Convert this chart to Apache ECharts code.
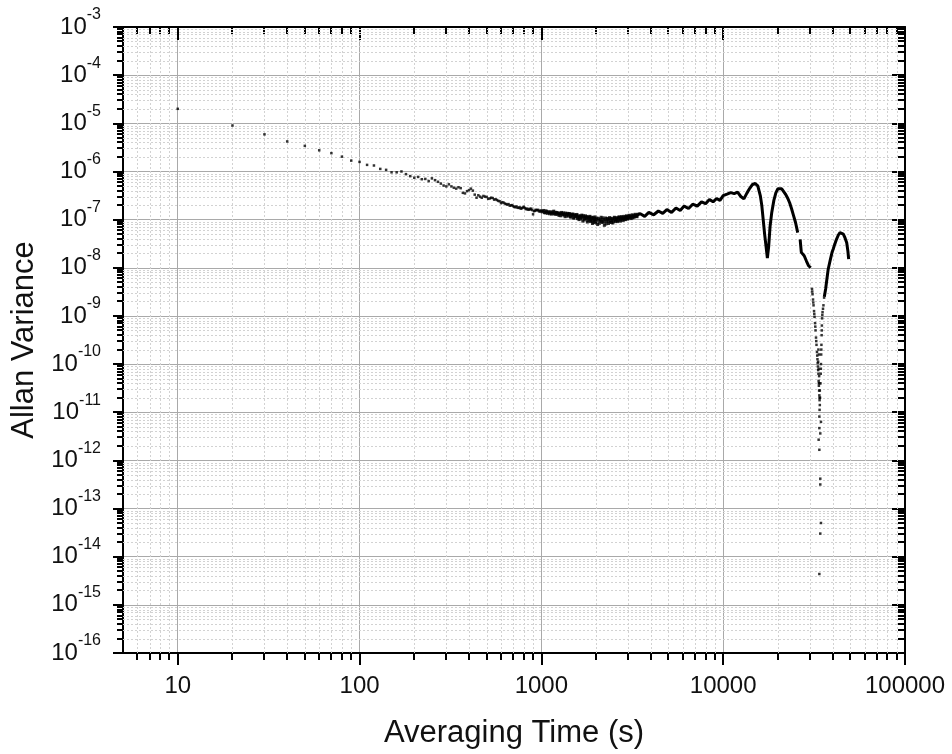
<!DOCTYPE html>
<html>
<head>
<meta charset="utf-8">
<title>Allan Variance</title>
<script src="https://cdn.jsdelivr.net/npm/echarts@6/dist/echarts.min.js"></script>
<style>
  html, body { margin: 0; padding: 0; background: #ffffff; }
  #chart { width: 952px; height: 754px; }
</style>
</head>
<body>
<div id="chart"></div>
<script>
// Allan variance against averaging time, log-log.

// Short averaging times: one point every 10 s
const shortTau = [10, 20, 30, 40, 50, 60, 70, 80, 90, 100,
  110, 120, 130, 140, 150, 160, 170, 180, 190, 200,
  210, 220, 230, 240, 250, 260, 270, 280, 290, 300,
  310, 320, 330, 340, 350, 360, 370, 380, 390, 400,
  410, 420, 430, 440, 450, 460, 470, 480, 490, 500,
  510, 520, 530, 540, 550, 560, 570, 580, 590, 600,
  610, 620, 630, 640, 650, 660, 670, 680, 690, 700,
  710, 720, 730, 740, 750, 760, 770, 780, 790, 800,
  810, 820, 830, 840, 850, 860, 870, 880, 890, 900,
  910, 920, 930, 940, 950, 960, 970, 980, 990, 1000];
const shortVar = [2.0e-5, 9.0e-6, 5.9e-6, 4.2e-6, 3.4e-6, 2.75e-6, 2.4e-6, 2.03e-6, 1.68e-6, 1.58e-6,
  1.37e-6, 1.33e-6, 1.13e-6, 1.08e-6, 9.6e-7, 9.6e-7, 1.0e-6, 8.8e-7, 8.0e-7, 7.4e-7,
  7.7e-7, 6.9e-7, 7.0e-7, 6.3e-7, 7.2e-7, 6.6e-7, 6.1e-7, 5.6e-7, 5.1e-7, 4.9e-7,
  5.4e-7, 4.9e-7, 4.6e-7, 4.4e-7, 4.7e-7, 4.5e-7, 3.6e-7, 3.5e-7, 3.9e-7, 4.1e-7,
  4.4e-7, 4.0e-7, 3.3e-7, 2.85e-7, 3.2e-7, 3.0e-7, 2.85e-7, 3.1e-7, 3.0e-7, 2.95e-7,
  2.7e-7, 2.75e-7, 2.85e-7, 2.8e-7, 2.6e-7, 2.65e-7, 2.55e-7, 2.45e-7, 2.4e-7, 2.2e-7,
  2.3e-7, 2.25e-7, 2.15e-7, 2.1e-7, 2.05e-7, 2.1e-7, 1.95e-7, 1.97e-7, 2.0e-7, 1.9e-7,
  1.85e-7, 1.8e-7, 1.88e-7, 1.77e-7, 1.75e-7, 1.8e-7, 1.69e-7, 1.72e-7, 1.78e-7, 1.85e-7,
  1.75e-7, 1.65e-7, 1.7e-7, 1.63e-7, 1.6e-7, 1.68e-7, 1.62e-7, 1.69e-7, 1.58e-7, 1.29e-7,
  1.5e-7, 1.52e-7, 1.6e-7, 1.56e-7, 1.58e-7, 1.59e-7, 1.5e-7, 1.47e-7, 1.55e-7, 1.51e-7];

// Scattered cloud around the minimum
const cloudTau = [1010, 1030, 1050, 1070, 1090, 1110, 1130, 1150, 1170, 1190,
  1210, 1230, 1250, 1270, 1290, 1310, 1330, 1350, 1370, 1390,
  1410, 1430, 1450, 1470, 1490, 1510, 1530, 1550, 1570, 1590,
  1610, 1630, 1650, 1670, 1690, 1710, 1730, 1750, 1770, 1790,
  1810, 1830, 1850, 1870, 1890, 1910, 1930, 1950, 1970, 1990,
  2010, 2040, 2070, 2100, 2130, 2160, 2190, 2220, 2250, 2280,
  2310, 2340, 2370, 2400, 2430, 2460, 2490, 2520, 2550, 2580,
  2610, 2640, 2670, 2700, 2730, 2760, 2790, 2820, 2850, 2880,
  2910, 2940, 2970, 3000, 3040, 3080, 3120, 3160, 3200, 3240,
  3280, 3320, 3360, 3400];
const cloudVar = [1.45e-7, 1.55e-7, 1.38e-7, 1.48e-7, 1.41e-7, 1.32e-7, 1.45e-7, 1.36e-7, 1.50e-7, 1.29e-7,
  1.40e-7, 1.35e-7, 1.22e-7, 1.33e-7, 1.41e-7, 1.26e-7, 1.38e-7, 1.15e-7, 1.29e-7, 1.35e-7,
  1.20e-7, 1.32e-7, 1.12e-7, 1.26e-7, 1.31e-7, 1.07e-7, 1.23e-7, 1.17e-7, 1.28e-7, 1.10e-7,
  1.00e-7, 1.20e-7, 1.12e-7, 1.24e-7, 9.3e-8, 1.15e-7, 1.05e-7, 1.20e-7, 1.09e-7, 8.9e-8,
  1.12e-7, 1.02e-7, 1.17e-7, 9.5e-8, 1.07e-7, 8.3e-8, 1.10e-7, 9.8e-8, 1.14e-7, 9.1e-8,
  1.03e-7, 7.9e-8, 1.05e-7, 9.4e-8, 1.12e-7, 8.7e-8, 1.00e-7, 7.6e-8, 1.08e-7, 9.1e-8,
  1.02e-7, 8.3e-8, 1.10e-7, 9.6e-8, 8.7e-8, 1.05e-7, 9.3e-8, 1.12e-7, 9.1e-8, 1.00e-7,
  1.10e-7, 9.5e-8, 1.14e-7, 1.04e-7, 9.3e-8, 1.15e-7, 1.02e-7, 9.6e-8, 1.17e-7, 1.07e-7,
  1.00e-7, 1.20e-7, 1.09e-7, 1.05e-7, 1.23e-7, 1.10e-7, 1.05e-7, 1.26e-7, 1.15e-7, 1.12e-7,
  1.29e-7, 1.17e-7, 1.15e-7, 1.29e-7];

// Intermediate points of the same cloud
const cloudTauB = [1020, 1040, 1060, 1080, 1100, 1120, 1140, 1160, 1180, 1200,
  1220, 1240, 1260, 1280, 1300, 1320, 1340, 1360, 1380, 1400,
  1420, 1440, 1460, 1480, 1500, 1520, 1540, 1560, 1580, 1600,
  1620, 1640, 1660, 1680, 1700, 1720, 1740, 1760, 1780, 1800,
  1820, 1840, 1860, 1880, 1900, 1920, 1940, 1960, 1980, 2000,
  2025, 2055, 2085, 2115, 2145, 2175, 2205, 2235, 2265, 2295,
  2325, 2355, 2385, 2415, 2445, 2475, 2505, 2535, 2565, 2595,
  2625, 2655, 2685, 2715, 2745, 2775, 2805, 2835, 2865, 2895,
  2925, 2955, 2985, 3020, 3060, 3100, 3140, 3180, 3220, 3260,
  3300, 3340, 3380];
const cloudVarB = [1.50e-7, 1.40e-7, 1.52e-7, 1.35e-7, 1.46e-7, 1.39e-7, 1.30e-7, 1.44e-7, 1.33e-7, 1.42e-7,
  1.28e-7, 1.39e-7, 1.31e-7, 1.20e-7, 1.36e-7, 1.30e-7, 1.24e-7, 1.36e-7, 1.18e-7, 1.28e-7,
  1.34e-7, 1.16e-7, 1.29e-7, 1.21e-7, 1.10e-7, 1.27e-7, 1.14e-7, 1.24e-7, 1.05e-7, 1.19e-7,
  1.13e-7, 1.03e-7, 1.18e-7, 1.08e-7, 1.21e-7, 9.8e-8, 1.12e-7, 1.03e-7, 1.16e-7, 9.5e-8,
  1.07e-7, 1.13e-7, 9.1e-8, 1.02e-7, 1.12e-7, 9.6e-8, 8.7e-8, 1.06e-7, 1.00e-7, 8.5e-8,
  1.08e-7, 9.7e-8, 8.4e-8, 1.01e-7, 9.2e-8, 1.09e-7, 8.9e-8, 9.9e-8, 8.1e-8, 1.06e-7,
  9.4e-8, 1.04e-7, 8.9e-8, 1.07e-7, 9.8e-8, 8.5e-8, 1.03e-7, 1.09e-7, 9.7e-8, 1.05e-7,
  9.1e-8, 1.07e-7, 1.12e-7, 9.8e-8, 1.08e-7, 1.13e-7, 1.05e-7, 1.10e-7, 1.01e-7, 1.14e-7,
  1.08e-7, 1.16e-7, 1.03e-7, 1.14e-7, 1.19e-7, 1.13e-7, 1.20e-7, 1.09e-7, 1.22e-7, 1.17e-7,
  1.24e-7, 1.21e-7, 1.26e-7];

// Dense, wavy trace at long averaging times (null = gap in the trace)
const bandTau = [3400, 3500, 3700, 3900, 4150, 4400, 4650, 4900, 5200, 5500,
  5800, 6100, 6450, 6800, 7200, 7600, 8000, 8400, 8800, 9200,
  9600, 10000, 10500, 11000, 11500, 12000, 12500, 13000, 13500, 14000,
  14500, 15000, 15500, 16000, 16300, 16600, 16900, 17200, 17500, 17800,
  18100, 18500, 19000, 19500, 20000, 20500, 21000, 21500, 22000, 22600,
  23200, 23800, 24400, 25000, 25700, 26100, 26500, 26900, 27400, 27900,
  28700, 29500, 30300];
const bandVar = [1.29e-7, 1.32e-7, 1.17e-7, 1.41e-7, 1.26e-7, 1.51e-7, 1.35e-7, 1.62e-7, 1.41e-7, 1.74e-7,
  1.55e-7, 1.91e-7, 1.70e-7, 2.09e-7, 1.91e-7, 2.34e-7, 2.14e-7, 2.63e-7, 2.34e-7, 2.75e-7,
  2.51e-7, 3.16e-7, 3.39e-7, 3.63e-7, 3.47e-7, 3.72e-7, 3.02e-7, 2.69e-7, 3.55e-7, 4.47e-7,
  5.37e-7, 5.62e-7, 5.01e-7, 3.16e-7, 2.0e-7, 1.0e-7, 5.01e-8, 2.82e-8, 1.58e-8, 2.82e-8,
  7.08e-8, 1.41e-7, 2.51e-7, 3.63e-7, 4.37e-7, 4.57e-7, 4.37e-7, 3.98e-7, 3.39e-7, 2.82e-7,
  2.24e-7, 1.66e-7, 1.20e-7, 8.71e-8, 5.37e-8, null, 3.89e-8, 2.09e-8, 1.91e-8, 1.78e-8,
  1.38e-8, 1.10e-8, 1.0e-8];

// Deep notch near 3.4e4 s
const dipTau = [30800, 31000, 31200, 31400, 31600, 31800, 32000, 32200, 32400, 32600,
  32800, 33000, 33200, 33400, 33500, 33600, 33700, 33800, 33900, 34000,
  33900, 33300, 33500, 33700, 33800, 34000, 33600, 33400, 34100,
  30900, 31300, 31700, 32100, 32500, 32900, 33100, 33300, 33600, 33900,
  34300, 34400, 34500, 34600, 34700, 34800, 34900, 35000, 35200, 35400,
  35600, 35900, 34450, 34650, 34850, 35100,
  33800, 34500, 33800, 34200, 33500, 33800, 34200, 34200, 34500, 34200, 33800];
const dipVar = [3.63e-9, 2.82e-9, 2.19e-9, 1.66e-9, 1.26e-9, 9.55e-10, 7.08e-10, 5.01e-10, 3.55e-10, 2.51e-10,
  1.78e-10, 1.26e-10, 8.91e-11, 6.31e-11, 4.47e-11, 3.55e-11, 2.82e-11, 2.24e-11, 1.78e-11, 1.41e-11,
  1.12e-11, 1.12e-10, 7.94e-11, 5.62e-11, 3.98e-11, 2.82e-11, 1.58e-10, 2.0e-10, 2.0e-11,
  3.2e-9, 1.9e-9, 1.1e-9, 6.0e-10, 3.0e-10, 1.5e-10, 1.05e-10, 7.5e-11, 4.0e-11, 2.0e-11,
  3.98e-11, 6.31e-11, 1.0e-10, 1.58e-10, 2.51e-10, 3.98e-10, 6.31e-10, 8.91e-10, 1.20e-9, 1.41e-9,
  1.66e-9, 2.4e-9, 8.0e-11, 2.0e-10, 5.0e-10, 1.05e-9,
  8.13e-12, 6.31e-12, 4.68e-12, 3.63e-12, 2.69e-12, 1.66e-12, 4.17e-13, 3.16e-13, 5.01e-14, 3.02e-14, 4.37e-15];

// Recovery after the notch
const tailTau = [36000, 36600, 37000, 37800, 38900, 39700, 40300, 41000, 42000, 43000,
  43900, 44800, 45800, 46800, 47800, 48500, 49000];
const tailVar = [2.51e-9, 3.63e-9, 5.01e-9, 9.33e-9, 1.51e-8, 2.09e-8, 2.45e-8, 3.02e-8, 3.89e-8, 4.79e-8,
  5.37e-8, 5.5e-8, 5.01e-8, 4.17e-8, 3.31e-8, 2.24e-8, 1.51e-8];

// Axis ticks
const xMajorTicks = [10, 100, 1000, 10000, 100000];
const yMajorTicks = [1e-16, 1e-15, 1e-14, 1e-13, 1e-12, 1e-11, 1e-10, 1e-9, 1e-8, 1e-7, 1e-6, 1e-5, 1e-4, 1e-3];

const X_MIN = 5, X_MAX = 100000;
const Y_MIN = 1e-16, Y_MAX = 1e-3;

// Minor tick positions 2..9 within each decade
function minorValues(lo, hi) {
  const out = [];
  for (let e = Math.floor(Math.log10(lo)); e < Math.ceil(Math.log10(hi)); e++) {
    for (let m = 2; m <= 9; m++) {
      const v = parseFloat((m * Math.pow(10, e)).toPrecision(6));
      if (v > lo && v < hi) out.push(v);
    }
  }
  return out;
}
const xMinorTicks = minorValues(X_MIN, X_MAX);
const yMinorTicks = minorValues(Y_MIN, Y_MAX);

const pairs = (xs, ys) => xs.map((x, i) => [x, ys[i] === null ? '-' : ys[i]]);

const FONT = '"Liberation Sans", Arial, Helvetica, sans-serif';
const MINOR_GRID = '#d2d2d2';

function renderXMinor(params, api) {
  const cs = params.coordSys;
  const px = Math.round(api.coord([api.value(0), api.value(1)])[0]);
  const top = cs.y, bottom = cs.y + cs.height;
  return {
    type: 'group',
    children: [
      { type: 'line', shape: { x1: px + 0.5, y1: top, x2: px + 0.5, y2: bottom },
        style: { stroke: MINOR_GRID, lineWidth: 1, lineDash: [2, 2] } },
      { type: 'line', shape: { x1: px, y1: bottom, x2: px, y2: bottom + 7 },
        style: { stroke: '#000', lineWidth: 2 } },
      { type: 'line', shape: { x1: px, y1: top, x2: px, y2: top + 7 },
        style: { stroke: '#000', lineWidth: 2 } }
    ]
  };
}

function renderYMinor(params, api) {
  const cs = params.coordSys;
  const py = Math.round(api.coord([api.value(0), api.value(1)])[1]);
  const left = cs.x, right = cs.x + cs.width;
  return {
    type: 'group',
    children: [
      { type: 'line', shape: { x1: left, y1: py + 0.5, x2: right, y2: py + 0.5 },
        style: { stroke: MINOR_GRID, lineWidth: 1, lineDash: [2, 2] } },
      { type: 'line', shape: { x1: left - 6, y1: py, x2: left, y2: py },
        style: { stroke: '#000', lineWidth: 2 } },
      { type: 'line', shape: { x1: right - 7, y1: py, x2: right, y2: py },
        style: { stroke: '#000', lineWidth: 2 } }
    ]
  };
}

const axisLineStyle = { color: '#000', width: 2 };
const dotStyle = { color: '#000' };

const chart = echarts.init(document.getElementById('chart'), null, { renderer: 'canvas' });
chart.setOption({
  animation: false,
  backgroundColor: '#ffffff',
  grid: { left: 123, right: 47, top: 27, bottom: 98 },
  xAxis: [
    {
      type: 'log', logBase: 10, min: X_MIN, max: X_MAX, position: 'bottom',
      name: 'Averaging Time (s)', nameLocation: 'middle', nameGap: 65,
      nameTextStyle: { fontFamily: FONT, fontSize: 31, color: '#111' },
      axisLine: { onZero: false, lineStyle: axisLineStyle },
      axisTick: { show: true, length: 12, lineStyle: { color: '#000', width: 2 }, customValues: xMajorTicks },
      axisLabel: { fontFamily: FONT, fontSize: 24, color: '#111', margin: 21, customValues: xMajorTicks,
        formatter: v => String(Math.round(v)) },
      splitLine: { show: true, lineStyle: { color: '#a9a9a9', width: 1 } }
    },
    {
      type: 'log', logBase: 10, min: X_MIN, max: X_MAX, position: 'top',
      axisLine: { onZero: false, lineStyle: axisLineStyle },
      axisTick: { show: true, inside: true, length: 13, lineStyle: { color: '#000', width: 2 }, customValues: xMajorTicks },
      axisLabel: { show: false },
      splitLine: { show: false }
    }
  ],
  yAxis: [
    {
      type: 'log', logBase: 10, min: Y_MIN, max: Y_MAX, position: 'left',
      name: 'Allan Variance', nameLocation: 'middle', nameGap: 80,
      nameTextStyle: { fontFamily: FONT, fontSize: 31, color: '#111' },
      axisLine: { onZero: false, lineStyle: axisLineStyle },
      axisTick: { show: true, length: 10, lineStyle: { color: '#000', width: 2 }, customValues: yMajorTicks },
      axisLabel: {
        margin: 22, customValues: yMajorTicks,
        formatter: v => '{b|10}{s|' + Math.round(Math.log10(v)) + '}',
        rich: {
          b: { fontFamily: FONT, fontSize: 24, color: '#111' },
          s: { fontFamily: FONT, fontSize: 16, color: '#111', padding: [0, 0, 24, 0] }
        }
      },
      splitLine: { show: true, lineStyle: { color: '#a9a9a9', width: 1 } }
    },
    {
      type: 'log', logBase: 10, min: Y_MIN, max: Y_MAX, position: 'right',
      axisLine: { onZero: false, lineStyle: axisLineStyle },
      axisTick: { show: true, inside: true, length: 13, lineStyle: { color: '#000', width: 2 }, customValues: yMajorTicks },
      axisLabel: { show: false },
      splitLine: { show: false }
    }
  ],
  series: [
    {
      name: 'x minor', type: 'custom', xAxisIndex: 0, yAxisIndex: 0, silent: true, clip: false, z: 1,
      renderItem: renderXMinor, data: xMinorTicks.map(v => [v, 1e-10])
    },
    {
      name: 'y minor', type: 'custom', xAxisIndex: 0, yAxisIndex: 0, silent: true, clip: false, z: 1,
      renderItem: renderYMinor, data: yMinorTicks.map(v => [100, v])
    },
    {
      name: 'short', type: 'scatter', xAxisIndex: 0, yAxisIndex: 0, z: 5,
      symbol: 'rect', symbolSize: 2.5, itemStyle: dotStyle,
      data: pairs(shortTau, shortVar)
    },
    {
      name: 'cloud', type: 'scatter', xAxisIndex: 0, yAxisIndex: 0, z: 5,
      symbol: 'rect', symbolSize: 3, itemStyle: dotStyle,
      data: pairs(cloudTau, cloudVar)
    },
    {
      name: 'cloud B', type: 'scatter', xAxisIndex: 0, yAxisIndex: 0, z: 5,
      symbol: 'rect', symbolSize: 3, itemStyle: dotStyle,
      data: pairs(cloudTauB, cloudVarB)
    },
    {
      name: 'band', type: 'line', xAxisIndex: 0, yAxisIndex: 0, z: 5,
      showSymbol: false, connectNulls: false,
      lineStyle: { color: '#000', width: 3 },
      data: pairs(bandTau, bandVar)
    },
    {
      name: 'dip', type: 'scatter', xAxisIndex: 0, yAxisIndex: 0, z: 5,
      symbol: 'rect', symbolSize: 2.5, itemStyle: dotStyle,
      data: pairs(dipTau, dipVar)
    },
    {
      name: 'tail', type: 'line', xAxisIndex: 0, yAxisIndex: 0, z: 5,
      showSymbol: false,
      lineStyle: { color: '#000', width: 3 },
      data: pairs(tailTau, tailVar)
    }
  ]
});
</script>
</body>
</html>
